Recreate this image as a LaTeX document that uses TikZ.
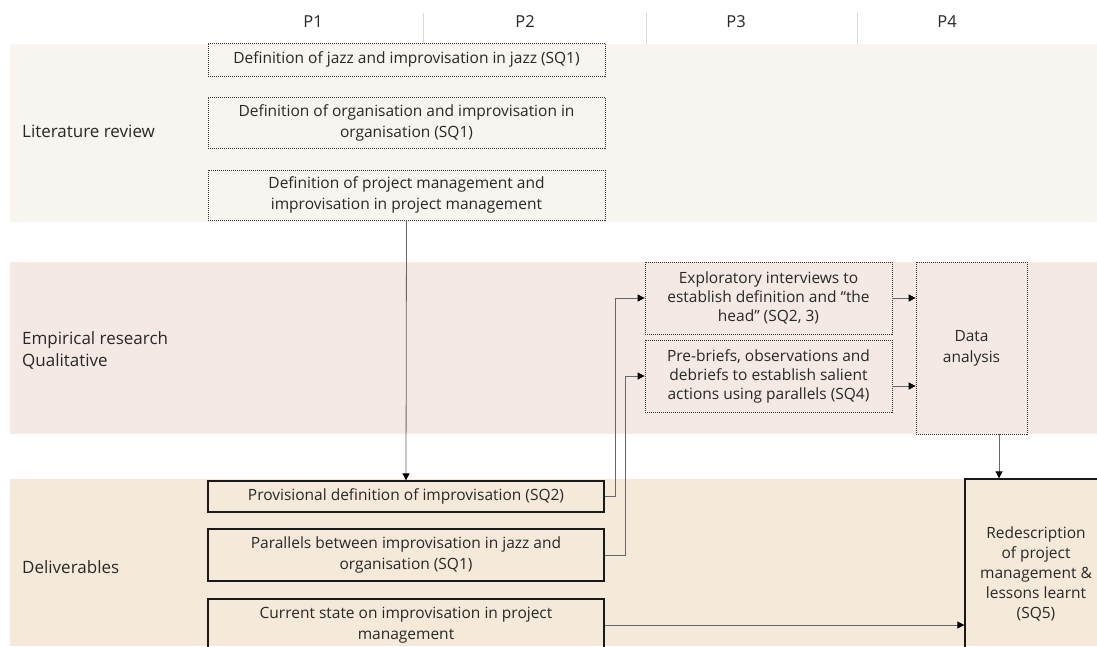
\documentclass[tikz,border=0pt]{standalone}
\usepackage{fontspec}
\setmainfont{Open Sans}
\usetikzlibrary{arrows.meta,calc}

\definecolor{litband}{RGB}{248,244,239}
\definecolor{empband}{RGB}{244,233,228}
\definecolor{delband}{RGB}{245,234,218}
\definecolor{inkgray}{RGB}{40,40,40}

\begin{document}
\begin{tikzpicture}[x=1pt,y=-1pt,
  every node/.style={font=\fontsize{15.5}{21}\selectfont, text=inkgray},
  dotbox/.style={draw=black!80, line width=0.8pt, dash pattern=on 1pt off 1pt,
                 align=center, inner sep=0pt},
  solidbox/.style={draw=black!90, line width=1.3pt, align=center, inner sep=0pt},
  tight/.style={font=\fontsize{15.5}{19}\selectfont},
  link/.style={draw=black!60, line width=0.8pt},
  arr/.style={link, -{Triangle[length=7pt,width=7pt,color=black]}},
  rowlabel/.style={anchor=west, align=left, inner sep=0pt, font=\fontsize{17}{22}\selectfont},
  header/.style={font=\fontsize{16.5}{18}\selectfont},
]
\clip (0,0) rectangle (1097,646);
\fill[white] (0,0) rectangle (1097,646);

% horizontal bands
\fill[litband] (10,44) rectangle (1097,222);
\fill[empband] (10,262) rectangle (1097,434);
\fill[delband] (10,479) rectangle (1097,646);

% column headers and separators
\node[header] (p1) at (313,22) {P1};
\node[header] (p2) at (525,22) {P2};
\node[header] (p3) at (736,22) {P3};
\node[header] (p4) at (947,22) {P4};
\foreach \sx in {423,646,857}
  \draw[black!15, line width=0.8pt] (\sx,13) -- (\sx,44);

% row labels
\node[rowlabel] (lrev) at (22,131) {Literature review};
\node[rowlabel] (emp) at (22,350) {Empirical research\\Qualitative};
\node[rowlabel] (deliv) at (22,567) {Deliverables};

% literature review
\node[dotbox, minimum width=397, minimum height=33] (b1) at (406.5,59.5)
  {Definition of jazz and improvisation in jazz (SQ1)};
\node[dotbox, minimum width=397, minimum height=51] (b2) at (406.5,122.5)
  {Definition of organisation and improvisation in\\organisation (SQ1)};
\node[dotbox, minimum width=397, minimum height=50] (b3) at (406.5,195)
  {Definition of project management and\\improvisation in project management};

% empirical research
\node[dotbox, tight, minimum width=247, minimum height=72] (expl) at (768.5,298)
  {Exploratory interviews to\\establish definition and \textquotedblleft the\\head\textquotedblright{} (SQ2, 3)};
\node[dotbox, tight, minimum width=247, minimum height=72] (pre) at (768.5,376)
  {Pre-briefs, observations and\\debriefs to establish salient\\actions using parallels (SQ4)};
\node[dotbox, minimum width=111, minimum height=172] (data) at (971.5,348)
  {Data\\analysis};

% deliverables
\node[solidbox, minimum width=396, minimum height=31] (prov) at (406,496.5)
  {Provisional definition of improvisation (SQ2)};
\node[solidbox, minimum width=396, minimum height=52] (par) at (406,555)
  {Parallels between improvisation in jazz and\\organisation (SQ1)};
\node[solidbox, minimum width=396, minimum height=52] (cur) at (406,625)
  {Current state on improvisation in project\\management};
\node[solidbox, font=\fontsize{15.5}{20}\selectfont, minimum width=142, minimum height=190] (red) at (1036,574)
  {Redescription\\of project\\management \&\\lessons learnt\\(SQ5)};

% connectors
\draw[arr] (b3.south) -- (prov.north);
\draw[arr] (prov.east) -- ++(11,0) |- (expl.west);
\draw[arr] (par.east) -- ++(21,0) |- (pre.west);
\draw[arr] (expl.east) -- (expl.east -| data.west);
\coordinate (preout) at ($(pre.east)+(0,10)$);
\draw[arr] (preout) -- (preout -| data.west);
\coordinate (dataout) at ($(data.south)+(27.5,0)$);
\draw[arr] (dataout) -- (dataout |- red.north);
\draw[arr] (cur.east) -- (cur.east -| red.west);
\end{tikzpicture}
\end{document}
